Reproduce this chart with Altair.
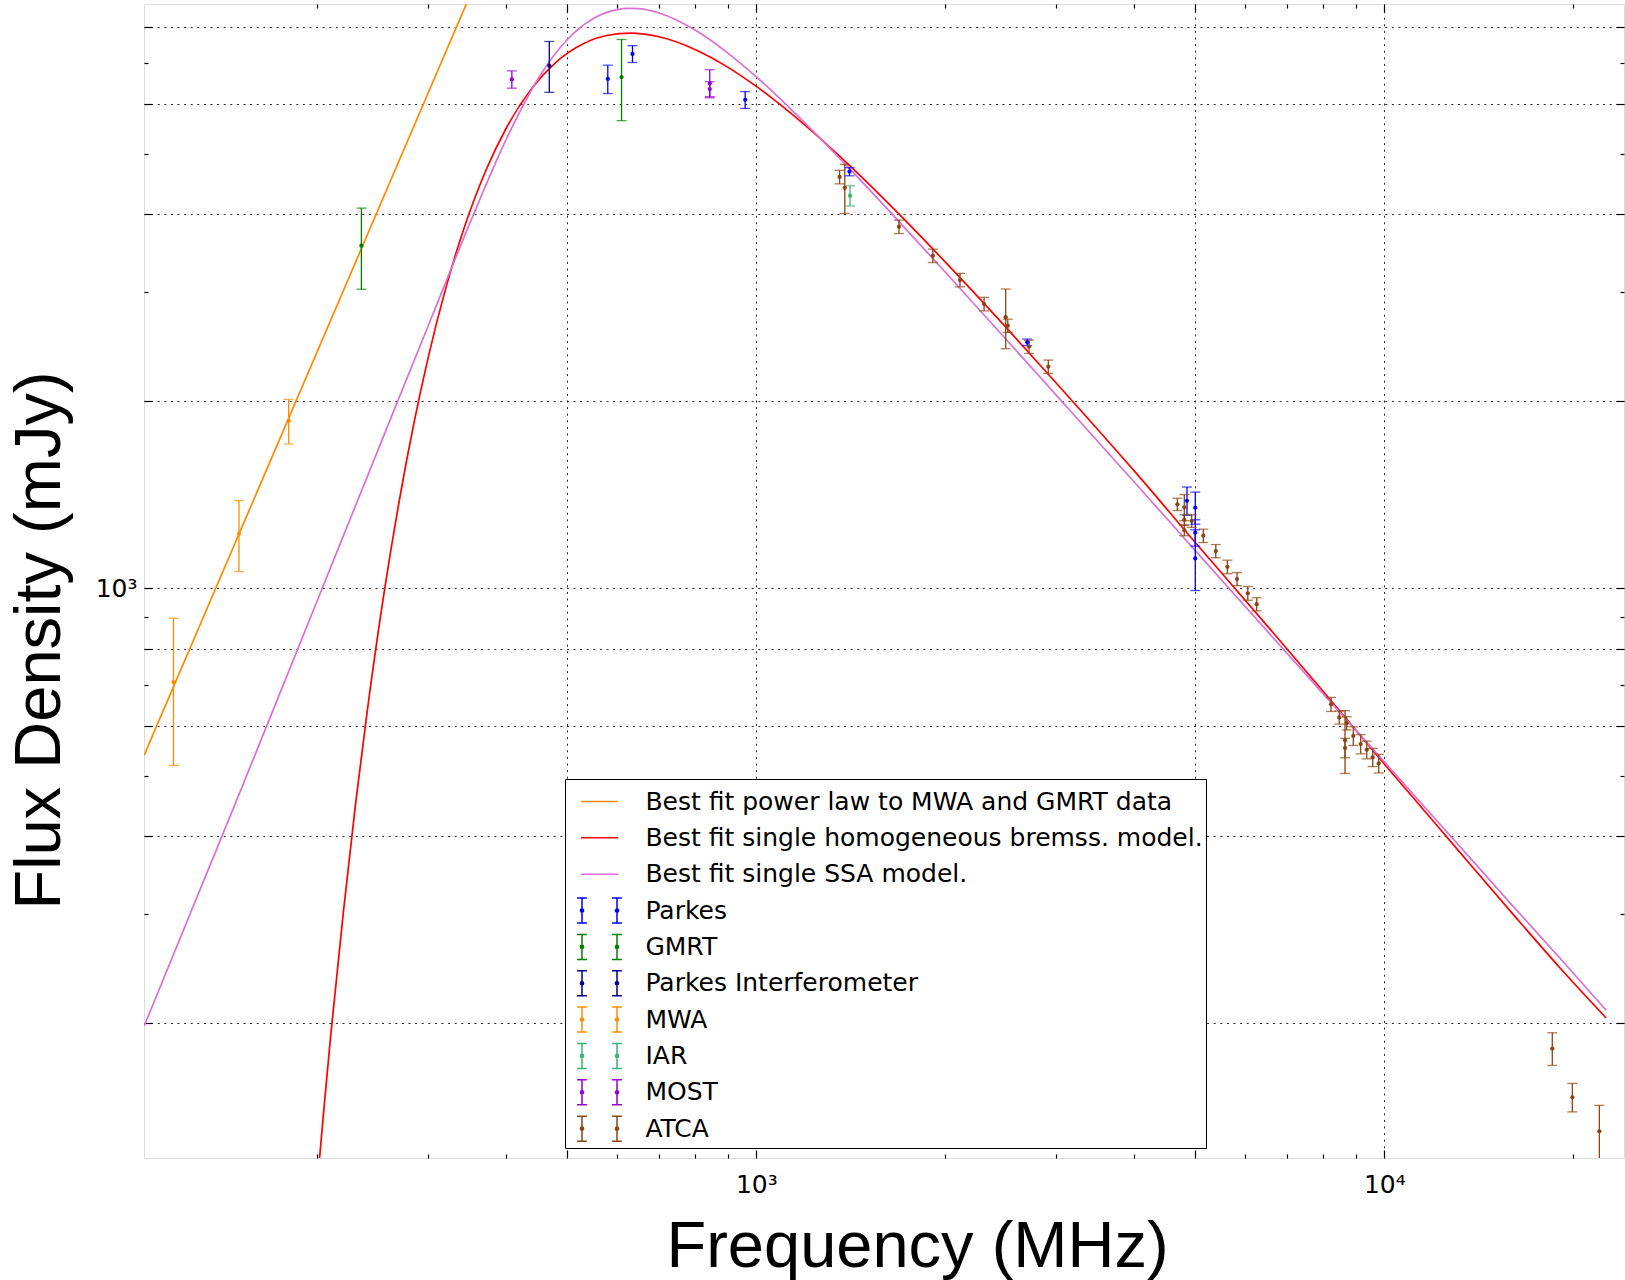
import altair as alt
import pandas as pd

# ---------------- observed flux densities (MHz, mJy, +/- mJy) ----------------
parkes_freq = [580, 635, 960, 1407, 2700, 4850, 5000, 5000, 5000]
parkes_flux = [6590, 7230, 6100, 4675, 2486, 1383, 1348, 1229, 1117]
parkes_err = [345, 225, 190, 70, 30, 72, 80, 60, 125]

gmrt_freq = [235, 610]
gmrt_flux = [3556, 6637]
gmrt_err = [530, 990]

pint_freq = [468]
pint_flux = [6922]
pint_err = [650]

mwa_freq = [118, 150, 180]
mwa_flux = [707, 1224, 1859]
mwa_err = [188, 160, 153]

iar_freq = [1410]
iar_flux = [4278]
iar_err = [160]

most_freq = [408, 843, 843]
most_flux = [6580, 6483, 6348]
most_err = [210, 337, 176]

atca_freq = [1357, 1383, 1687, 1910, 2110, 2305, 2495, 2514, 2718, 2917,
             4682, 4803, 4803, 4803, 4935, 5150, 5390, 5624, 5827, 6061, 6263,
             8224, 8477, 8658, 8658, 8712, 8925, 9170, 9376, 9583, 9797,
             18513, 19925, 22000]
atca_flux = [4585, 4405, 3814, 3425, 3131, 2865, 2728, 2644, 2446, 2272,
             1365, 1350, 1288, 1240, 1283, 1215, 1148, 1083, 1035, 982, 943,
             651, 620, 570, 554, 607, 579, 562, 550, 535, 523,
             182, 152, 134]
atca_err = [115, 400, 95, 85, 78, 72, 300, 65, 60, 56,
            31, 65, 25, 25, 30, 30, 28, 27, 25, 25, 23,
            17, 15, 66, 20, 15, 20, 20, 18, 18, 18,
            11, 8, 13.5]

# ---------------- fitted model curves ----------------
pl_freq = [106, 350]
pl_flux = [540, 8980]

brems_freq = [200, 205, 210, 220, 230, 240, 255, 270, 285, 300, 320, 340, 370, 400,
              440, 480, 530, 580, 630, 700, 800, 900, 1000, 1200, 1400, 1700, 2000,
              2500, 3000, 4000, 5000, 6500, 8000, 10000, 13000, 16000, 19000, 22540]
brems_flux = [111, 147, 191, 302, 450, 633, 974, 1383, 1846, 2343, 3030, 3712, 4670, 5501,
              6383, 7015, 7507, 7747, 7810, 7705, 7345, 6886, 6411, 5536, 4809, 3966, 3345,
              2625, 2141, 1543, 1185, 872, 682, 522, 383, 300, 246, 204]

ssa_freq = [106, 150, 200, 250, 300, 350, 400, 450, 500, 550, 600, 625, 650, 700, 800,
            900, 1000, 1200, 1400, 1700, 2000, 2500, 3000, 4000, 5000, 6500, 8000,
            10000, 13000, 16000, 19000, 22540]
ssa_flux = [198, 466, 957, 1673, 2638, 3869, 5281, 6613, 7626, 8244, 8521, 8560, 8548, 8412, 7890,
            7258, 6641, 5576, 4754, 3855, 3222, 2512, 2047, 1481, 1150, 855, 676,
            526, 391, 309, 255, 210]

# ---------------- axis tick values ----------------
x_major = [500, 1000, 5000, 10000]
x_minor = [200, 300, 400, 600, 700, 800, 900, 2000, 3000, 4000, 6000, 7000, 8000, 9000, 20000]
x_labelled = [1000, 10000]
y_major = [200, 400, 600, 800, 1000, 2000, 4000, 6000, 8000]
y_minor = [300, 500, 700, 900, 3000, 5000, 7000]
y_labelled = [1000]

series_labels = [
    "Best fit power law to MWA and GMRT data",
    "Best fit single homogeneous bremss. model.",
    "Best fit single SSA model.",
    "Parkes",
    "GMRT",
    "Parkes Interferometer",
    "MWA",
    "IAR",
    "MOST",
    "ATCA",
]
series_colors = ["#ff8c00", "#ff0000", "#da70d6", "#0000ff", "#008000",
                 "#000080", "#ff8c00", "#3cb371", "#9400d3", "#8b4513"]

# ---------------- tables ----------------
curve_rows = []
for name, fs, ss in [(series_labels[0], pl_freq, pl_flux),
                     (series_labels[1], brems_freq, brems_flux),
                     (series_labels[2], ssa_freq, ssa_flux)]:
    for f, s in zip(fs, ss):
        curve_rows.append({"series": name, "freq": f, "flux": s})
curves = pd.DataFrame(curve_rows)

obs_rows = []
for name, fs, ss, es in [("Parkes", parkes_freq, parkes_flux, parkes_err),
                         ("GMRT", gmrt_freq, gmrt_flux, gmrt_err),
                         ("Parkes Interferometer", pint_freq, pint_flux, pint_err),
                         ("MWA", mwa_freq, mwa_flux, mwa_err),
                         ("IAR", iar_freq, iar_flux, iar_err),
                         ("MOST", most_freq, most_flux, most_err),
                         ("ATCA", atca_freq, atca_flux, atca_err)]:
    for f, s, e in zip(fs, ss, es):
        obs_rows.append({"series": name, "freq": f, "flux": s, "lo": s - e, "hi": s + e})
obs = pd.DataFrame(obs_rows)

legend_df = pd.DataFrame({"series": series_labels})

# ---------------- legend symbols (unit-square SVG paths) ----------------
H_EB, W_CAP, CX = 0.676, 0.265, 0.946
BOUNDS = f"M{-(CX + W_CAP):.3f},{-H_EB}M{CX + W_CAP:.3f},{H_EB}"


def errorbar_icon():
    parts = [BOUNDS]
    for cx in (-CX, CX):
        parts.append(f"M{cx - W_CAP:.3f},{-H_EB}H{cx + W_CAP:.3f}M{cx:.3f},{-H_EB}V{H_EB}"
                     f"M{cx - W_CAP:.3f},{H_EB}H{cx + W_CAP:.3f}")
        for rr in (0.0865, 0.035):
            parts.append(f"M{cx - rr:.4f},0A{rr},{rr} 0 1,0 {cx + rr:.4f},0A{rr},{rr} 0 1,0 {cx - rr:.4f},0")
    return "".join(parts)


LINE_ICON = BOUNDS + "M-1,0H1"
EB_ICON = errorbar_icon()
shape_paths = [LINE_ICON] * 3 + [EB_ICON] * 7

# ---------------- scales ----------------
xscale = alt.Scale(type="log", domain=[105.9, 24080], nice=False)
yscale = alt.Scale(type="log", domain=[121.4, 8698], nice=False)
cscale = alt.Scale(domain=series_labels, range=series_colors)
sscale = alt.Scale(domain=series_labels, range=shape_paths)

GRID = dict(grid=True, gridColor="black", gridDash=[2, 4.6], gridWidth=1, gridOpacity=0.85)


def tick_axis(orient, values, size, grid=False):
    kw = dict(orient=orient, values=values, labels=False, domain=False, ticks=True,
              tickSize=size, tickWidth=1.2, tickColor="black", offset=-size,
              title=None, grid=False)
    if grid:
        kw.update(GRID)
    return alt.Axis(**kw)


x_label_axis = alt.Axis(orient="bottom", values=x_labelled,
                        labelExpr="datum.value < 5000 ? '10\u00b3' : '10\u2074'",
                        ticks=False, tickSize=0, domain=False, grid=False,
                        labelFont="DejaVu Sans", labelFontSize=25, labelColor="black",
                        labelPadding=14, labelFlush=False, labelOverlap=False,
                        title="Frequency (MHz)", titleFont="Liberation Sans", titleFontSize=65,
                        titleFontWeight="normal", titleColor="black",
                        titleX=773, titleY=108, titleAlign="center", titleBaseline="alphabetic")
y_label_axis = alt.Axis(orient="left", values=y_labelled,
                        labelExpr="'10\u00b3'",
                        ticks=False, tickSize=0, domain=False, grid=False,
                        labelFont="DejaVu Sans", labelFontSize=25, labelColor="black",
                        labelPadding=7, labelFlush=False, labelOverlap=False,
                        title="Flux Density (mJy)", titleFont="Liberation Sans", titleFontSize=65,
                        titleFontWeight="normal", titleColor="black", titleAngle=270,
                        titleX=-85, titleY=636, titleAlign="center", titleBaseline="alphabetic")

leg = alt.Legend(title=None, orient="none", legendX=421, legendY=775, direction="vertical",
                 columns=1, fillColor="white", strokeColor="black",
                 padding=3, labelFont="DejaVu Sans", labelFontSize=25, labelColor="black",
                 labelLimit=2000, labelOffset=26.4, symbolOffset=12, symbolSize=1369,
                 symbolStrokeWidth=1.5, symbolOpacity=1, rowPadding=0.35, zindex=1)

# ---------------- layers ----------------
legend_layer = alt.Chart(legend_df).mark_point(opacity=0, filled=False, strokeWidth=1.5).encode(
    color=alt.Color("series:N", scale=cscale, legend=leg),
    shape=alt.Shape("series:N", scale=sscale, legend=leg),
)

lines = alt.Chart(curves).mark_line(clip=True, strokeWidth=1.7, interpolate="monotone").encode(
    x=alt.X("freq:Q", scale=xscale, axis=x_label_axis),
    y=alt.Y("flux:Q", scale=yscale, axis=y_label_axis),
    color=alt.Color("series:N", scale=cscale, legend=None),
)

bars = alt.Chart(obs).mark_rule(clip=True, strokeWidth=1.3).encode(
    x=alt.X("freq:Q", scale=xscale, axis=tick_axis("bottom", x_major, 8, grid=True)),
    y=alt.Y("lo:Q", scale=yscale, axis=tick_axis("left", y_major, 8, grid=True)),
    y2="hi:Q",
    color=alt.Color("series:N", scale=cscale, legend=None),
)

caps_lo = alt.Chart(obs).mark_tick(clip=True, orient="horizontal", size=10, thickness=1.3,
                                   opacity=0.7).encode(
    x=alt.X("freq:Q", scale=xscale, axis=tick_axis("bottom", x_minor, 4)),
    y=alt.Y("lo:Q", scale=yscale, axis=tick_axis("left", y_minor, 4)),
    color=alt.Color("series:N", scale=cscale, legend=None),
)

caps_hi = alt.Chart(obs).mark_tick(clip=True, orient="horizontal", size=10, thickness=1.3,
                                   opacity=0.7).encode(
    x=alt.X("freq:Q", scale=xscale, axis=tick_axis("top", x_major, 8)),
    y=alt.Y("hi:Q", scale=yscale, axis=tick_axis("right", y_major, 8)),
    color=alt.Color("series:N", scale=cscale, legend=None),
)

dots = alt.Chart(obs).mark_circle(clip=True, size=18, opacity=1).encode(
    x=alt.X("freq:Q", scale=xscale, axis=tick_axis("top", x_minor, 4)),
    y=alt.Y("flux:Q", scale=yscale, axis=tick_axis("right", y_minor, 4)),
    color=alt.Color("series:N", scale=cscale, legend=None),
)

chart = alt.layer(legend_layer, lines, bars, caps_lo, caps_hi, dots).resolve_axis(
    x="independent", y="independent"
).properties(
    width=1480, height=1154,
    autosize=alt.AutoSizeParams(type="none"),
    padding={"left": 144, "top": 4, "right": 1, "bottom": 122},
).configure_view(
    stroke="black", strokeWidth=2
).configure(
    background="white", font="DejaVu Sans"
)

chart.save("out.html", embed_options={"renderer": "svg", "actions": False})
